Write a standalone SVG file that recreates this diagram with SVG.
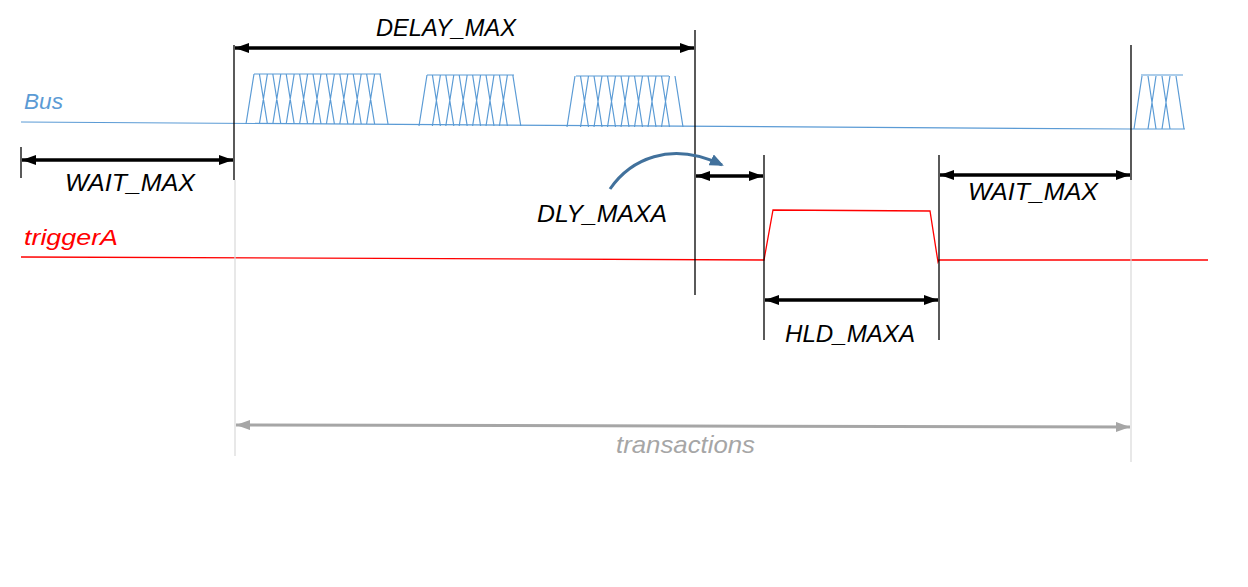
<svg xmlns="http://www.w3.org/2000/svg" width="1248" height="587" viewBox="0 0 1248 587">
<defs>
<style>
.lbl{font-family:"Liberation Sans",Arial,sans-serif;font-style:italic;font-size:24px;fill:#000}
.bus{stroke:#5B9BD5;stroke-width:1.2;fill:none}
.trig{stroke:#FF0000;stroke-width:1.3;fill:none}
.tick{stroke:#000;stroke-width:1.3}
.guide{stroke:#D9D9D9;stroke-width:1.2}
.dim{stroke:#000;stroke-width:3.5;fill:none}
.gdim{stroke:#A6A6A6;stroke-width:3;fill:none}
</style>
<marker id="ah" viewBox="0 0 14 10" refX="14" refY="5" markerWidth="14" markerHeight="10" markerUnits="userSpaceOnUse" orient="auto-start-reverse">
<path d="M0,0 L14,5 L0,10 Z" fill="#000"/>
</marker>
<marker id="gah" viewBox="0 0 14 10" refX="14" refY="5" markerWidth="14" markerHeight="10" markerUnits="userSpaceOnUse" orient="auto-start-reverse">
<path d="M0,0 L14,5 L0,10 Z" fill="#A6A6A6"/>
</marker>
<marker id="bah" viewBox="0 0 14 12" refX="12" refY="6" markerWidth="14" markerHeight="12" markerUnits="userSpaceOnUse" orient="auto">
<path d="M0,0 L14,6 L0,12 Z" fill="#41719C"/>
</marker>
</defs>
<rect width="1248" height="587" fill="#fff"/>

<g id="bus-signal">
<path class="bus" d="M21,122 L1130,129 L1185,129"/>
<text x="24" y="109" style="font-family:'Liberation Sans',Arial,sans-serif;font-style:italic;font-size:22px;fill:#5B9BD5" textLength="39" lengthAdjust="spacingAndGlyphs">Bus</text>
<path class="bus" d="M254,74 H381 M246,124 L254,74 M259.4,124 L267.4,74 M272.8,124 L280.8,74 M286.2,124 L294.2,74 M299.6,124 L307.6,74 M313,124 L321,74 M326.4,124 L334.4,74 M339.8,124 L347.8,74 M353.2,124 L361.2,74 M366.6,124 L374.6,74 M259.4,74 L267.4,124 M272.8,74 L280.8,124 M286.2,74 L294.2,124 M299.6,74 L307.6,124 M313,74 L321,124 M326.4,74 L334.4,124 M339.8,74 L347.8,124 M353.2,74 L361.2,124 M366.6,74 L374.6,124 M380,74 L388,124"/>
<path class="bus" d="M427,75 H514 M419,126 L427,75 M432.4,126 L440.4,75 M445.8,126 L453.8,75 M459.2,126 L467.2,75 M472.6,126 L480.6,75 M486,126 L494,75 M499.4,126 L507.4,75 M432.4,75 L440.4,126 M445.8,75 L453.8,126 M459.2,75 L467.2,126 M472.6,75 L480.6,126 M486,75 L494,126 M499.4,75 L507.4,126 M512.8,75 L520.8,126"/>
<path class="bus" d="M576,76 H669 M567,127 L575,76 M580.5,127 L588.5,76 M594,127 L602,76 M607.5,127 L615.5,76 M621,127 L629,76 M634.5,127 L642.5,76 M648,127 L656,76 M661.5,127 L669.5,76 M580.5,76 L588.5,127 M594,76 L602,127 M607.5,76 L615.5,127 M621,76 L629,127 M634.5,76 L642.5,127 M648,76 L656,127 M661.5,76 L669.5,127 M675,76 L683,127"/>
<path class="bus" d="M1141,75 H1183 M1134,129 L1142,76 M1148,129 L1156,76 M1162,129 L1170,76 M1148,76 L1156,129 M1162,76 L1170,129 M1176,76 L1184,129"/>
</g>

<g id="triggerA-signal">
<path class="trig" d="M21,257 L764,260 L773,210 L930,211 L938,262 L939,260 L1208,260"/>
<text x="24" y="245" style="font-family:'Liberation Sans',Arial,sans-serif;font-style:italic;font-size:22px;fill:#FF0000" textLength="94" lengthAdjust="spacingAndGlyphs">triggerA</text>
</g>

<g id="guides">
<line class="guide" x1="235" y1="180" x2="235" y2="456"/>
<line class="guide" x1="1131" y1="180" x2="1131" y2="462"/>
<line class="tick" x1="234" y1="45" x2="234" y2="180"/>
<line class="tick" x1="1131" y1="45" x2="1131" y2="180"/>
<line class="tick" x1="695" y1="30" x2="695" y2="295"/>
<line class="tick" x1="764" y1="155" x2="764" y2="340"/>
<line class="tick" x1="939" y1="155" x2="939" y2="340"/>
<line class="tick" x1="21" y1="147" x2="21" y2="178"/>
</g>

<g id="connectors">
<line class="dim" x1="235" y1="48" x2="694" y2="48" marker-start="url(#ah)" marker-end="url(#ah)"/>
<line class="dim" x1="22" y1="160" x2="233" y2="160" marker-start="url(#ah)" marker-end="url(#ah)"/>
<line class="dim" x1="696" y1="176" x2="763" y2="176" marker-start="url(#ah)" marker-end="url(#ah)"/>
<line class="dim" x1="940" y1="175" x2="1130" y2="175" marker-start="url(#ah)" marker-end="url(#ah)"/>
<line class="dim" x1="765" y1="300" x2="938" y2="300" marker-start="url(#ah)" marker-end="url(#ah)"/>
<line class="gdim" x1="236" y1="425" x2="1130" y2="427" marker-start="url(#gah)" marker-end="url(#gah)"/>
<path d="M610,189 C630,160 670,140 722,165" stroke="#41719C" stroke-width="3" fill="none" marker-end="url(#bah)"/>
</g>

<g id="labels">
<text class="lbl" x="376" y="36" textLength="140" lengthAdjust="spacingAndGlyphs">DELAY_MAX</text>
<text class="lbl" x="65" y="191" textLength="130" lengthAdjust="spacingAndGlyphs">WAIT_MAX</text>
<text class="lbl" x="537" y="222" textLength="130" lengthAdjust="spacingAndGlyphs">DLY_MAXA</text>
<text class="lbl" x="968" y="200" textLength="130" lengthAdjust="spacingAndGlyphs">WAIT_MAX</text>
<text class="lbl" x="785" y="342" textLength="130" lengthAdjust="spacingAndGlyphs">HLD_MAXA</text>
<text class="lbl" x="616" y="453" style="fill:#A6A6A6" textLength="139" lengthAdjust="spacingAndGlyphs">transactions</text>
</g>
</svg>
